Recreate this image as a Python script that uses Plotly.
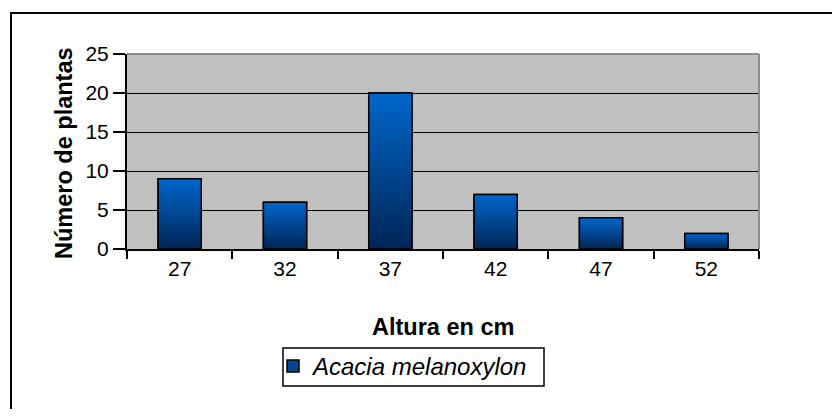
import plotly.graph_objects as go

categories = ["27", "32", "37", "42", "47", "52"]
values = [9, 6, 20, 7, 4, 2]
series_name = "Acacia melanoxylon"
y_ticks = [0, 5, 10, 15, 20, 25]
x_title = "Altura en cm"
y_title = "Número de plantas"

OFF = 8  # browser body margin
W, H = 840 - 2 * OFF, 417 - 2 * OFF
L, R, T, B = 127, 759, 54, 249  # plot area in screen px
FONT = "Liberation Sans, Arial, sans-serif"
FS_TICK = 21
FS_TITLE = 23.5
FS_LEG = 24

top_rgb = (0, 102, 204)
bot_rgb = (0, 38, 86)
N = 40
BW = 0.41


def mix(t):
    r = [round(a * (1 - t) + b * t) for a, b in zip(top_rgb, bot_rgb)]
    return f"rgb({r[0]},{r[1]},{r[2]})"


fig = go.Figure()
# legend carrier
fig.add_trace(go.Bar(x=categories, y=values, name=series_name, width=BW,
                     marker=dict(color=mix(0.5), line=dict(color="black", width=1.5)),
                     showlegend=True, hoverinfo="skip"))
# gradient layers
for k in range(N):
    frac = (N - k) / N
    fig.add_trace(go.Bar(x=categories, y=[v * frac for v in values], width=BW,
                         marker=dict(color=mix((k + 0.5) / N), line=dict(width=0)),
                         showlegend=False, hoverinfo="skip"))
# outline
fig.add_trace(go.Bar(x=categories, y=values, width=BW,
                     marker=dict(color="rgba(0,0,0,0)", line=dict(color="black", width=1.5)),
                     showlegend=False, hoverinfo="skip"))


def px2x(px):
    return (px - L) / (R - L)


def px2y(py):
    return (B - py) / (B - T)


fig.update_layout(
    width=W, height=H,
    margin=dict(l=L - OFF, r=W - (R - OFF), t=T - OFF, b=H - (B - OFF), autoexpand=False),
    paper_bgcolor="white", plot_bgcolor="#C0C0C0",
    barmode="overlay",
    font=dict(family=FONT, size=FS_TICK, color="black"),
    showlegend=True,
    legend=dict(xref="container", yref="container",
                x=(273 - OFF) / W, y=1 - (344 - OFF) / H, xanchor="left", yanchor="top",
                bgcolor="rgba(0,0,0,0)", borderwidth=0,
                font=dict(family=FONT, size=FS_LEG, style="italic", color="black"),
                itemwidth=30),
    xaxis=dict(type="category", tickson="boundaries", ticks="outside", ticklen=8,
               tickcolor="black", tickwidth=1.5, showline=True, linecolor="black",
               linewidth=2, showgrid=False, tickangle=0,
               range=[-0.5, len(categories) - 0.5]),
    yaxis=dict(range=[0, 25], tickvals=y_ticks, ticks="outside", ticklen=12,
               tickcolor="black", tickwidth=1.5, showline=True, linecolor="black",
               linewidth=2, showgrid=True, gridcolor="black", gridwidth=1.2,
               zeroline=False),
    annotations=[
        dict(text=f"<b>{x_title}</b>", xref="paper", yref="paper",
             x=0.5, y=px2y(327), xanchor="center", yanchor="middle",
             showarrow=False, font=dict(size=FS_TITLE)),
        dict(text=f"<b>{y_title}</b>", xref="paper", yref="paper",
             x=px2x(64), y=px2y(153), xanchor="center", yanchor="middle", textangle=-90,
             showarrow=False, font=dict(size=FS_TITLE)),
    ],
    shapes=[
        dict(type="line", xref="paper", yref="paper", x0=0, x1=1, y0=1, y1=1,
             line=dict(color="#8C8C8C", width=2), layer="above"),
        dict(type="line", xref="paper", yref="paper", x0=1, x1=1, y0=0, y1=1,
             line=dict(color="#8C8C8C", width=2), layer="above"),
        dict(type="rect", xref="paper", yref="paper",
             x0=px2x(11), x1=px2x(900), y0=px2y(13), y1=px2y(480),
             line=dict(color="black", width=2), fillcolor="rgba(0,0,0,0)"),
        dict(type="rect", xref="paper", yref="paper",
             x0=px2x(283), x1=px2x(544), y0=px2y(348), y1=px2y(386),
             line=dict(color="black", width=1.5), fillcolor="white", layer="above"),
    ],
)

fig.write_html("out.html")
